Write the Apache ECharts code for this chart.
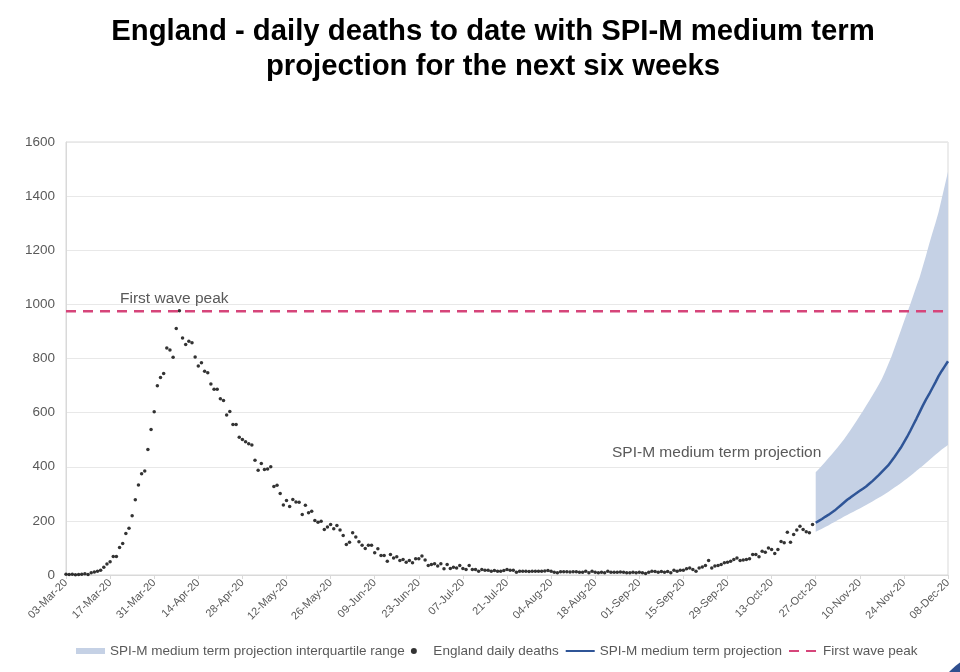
<!DOCTYPE html>
<html>
<head>
<meta charset="utf-8">
<script src="https://cdn.jsdelivr.net/npm/echarts@6/dist/echarts.min.js"></script>
<style>html,body{margin:0;padding:0;background:#fff}#c{width:960px;height:672px}</style>
</head>
<body>
<div id="c"></div>
<script>
// ---- Data ----
const MONTHS = ['Jan','Feb','Mar','Apr','May','Jun','Jul','Aug','Sep','Oct','Nov','Dec'];
const firstDate = [2020, 2, 3];   // 03-Mar-20
const lastDate = [2020, 11, 8];   // 08-Dec-20

// England daily deaths, one value per day from 03-Mar-20 to 26-Oct-20
const dailyDeaths = [
  3,2,3,1,2,3,5,2,8,11,14,18,29,41,49,68,68,102,116,153,173,219,278,333,374,384,464,538,603,699,730,745,839,831,805,911,976,
  876,852,864,858,806,772,784,753,747,706,686,686,651,645,591,604,556,556,509,501,492,485,480,424,387,412,390,392,400,327,332,301,259,275,253,279,270,
  269,224,258,230,236,201,195,199,168,177,187,171,183,166,146,113,121,156,140,123,110,98,110,110,82,97,72,72,51,76,63,67,54,57,47,54,45,60,60,70,55,35,39,42,33,42,23,39,
  24,29,26,35,24,20,35,20,20,14,20,18,18,14,17,14,14,17,20,18,18,10,14,14,14,13,14,14,14,14,15,17,14,10,8,12,12,12,11,12,12,10,10,14,8,14,10,8,10,8,14,10,10,10,11,10,8,8,10,8,
  10,8,6,10,14,13,10,13,10,13,8,18,14,18,18,23,26,20,14,26,30,35,54,26,33,35,39,45,47,51,57,63,54,55,57,60,76,76,67,88,84,100,94,79,94,124,119,158,121,150,166,180,168,160,156,187
];

// SPI-M medium term projection, 27-Oct-20 to 08-Dec-20
const projectionMedian = [
  193,200,207,215,222,230,238,248,258,268,278,286,295,303,311,319,327,337,347,358,369,381,393,405,420,436,453,470,490,510,532,555,578,602,626,648,668,690,712,735,754,772,790
];
const projectionLower = [
  160,165,171,177,183,190,196,203,209,216,222,228,234,240,246,252,259,265,272,279,285,292,299,307,315,323,331,339,348,357,366,375,385,394,404,414,424,434,444,454,464,472,480
];
const projectionUpper = [
  380,392,405,418,431,444,458,472,487,502,518,535,552,570,588,606,625,644,663,683,703,724,750,778,806,838,870,903,936,968,1000,1034,1068,1100,1140,1180,1222,1262,1300,1340,1390,1440,1490
];

const firstWavePeak = 975;

const yMin = 0, yMax = 1600, yStep = 200;

// ---- Build categories (every day) ----
const categories = [];
(function () {
  const t0 = Date.UTC(firstDate[0], firstDate[1], firstDate[2]);
  const t1 = Date.UTC(lastDate[0], lastDate[1], lastDate[2]);
  for (let t = t0; t <= t1; t += 86400000) {
    const d = new Date(t);
    categories.push(String(d.getUTCDate()).padStart(2, '0') + '-' + MONTHS[d.getUTCMonth()] + '-' + String(d.getUTCFullYear()).slice(2));
  }
})();

const projStart = dailyDeaths.length;
const pad = n => Array.from({length: n}, () => '-');
const lowerData = pad(projStart).concat(projectionLower);
const rangeData = pad(projStart).concat(projectionUpper.map((u, i) => u - projectionLower[i]));
const medianData = pad(projStart).concat(projectionMedian);

const GREY = '#595959';
const FONT = 'Liberation Sans, Arial, sans-serif';
const BAND = '#C5D1E5';
const BLUE = '#2F5597';
const PINK = '#D6457A';
const NOFILL = 'rgba(0,0,0,0)';

const chart = echarts.init(document.getElementById('c'), null, {renderer: 'canvas'});
chart.setOption({
  animation: false,
  backgroundColor: '#fff',
  textStyle: {fontFamily: FONT},
  grid: {left: 66, right: 12, top: 142, bottom: 97, show: true, borderColor: '#d9d9d9', borderWidth: 1, containLabel: false},
  xAxis: {
    type: 'category',
    data: categories,
    boundaryGap: false,
    axisLine: {lineStyle: {color: '#d9d9d9', width: 1}},
    axisTick: {show: true, interval: 13, length: 4, lineStyle: {color: '#d9d9d9'}},
    axisLabel: {interval: 13, rotate: 45, color: GREY, fontSize: 11, fontFamily: FONT, margin: 6},
    splitLine: {show: false}
  },
  yAxis: {
    type: 'value',
    min: yMin, max: yMax, interval: yStep,
    axisLine: {show: true, lineStyle: {color: '#d9d9d9'}},
    axisTick: {show: false},
    axisLabel: {color: GREY, fontSize: 13.5, fontFamily: FONT, margin: 11, formatter: v => String(v)},
    splitLine: {lineStyle: {color: '#e8e8e8', width: 1}}
  },
  legend: {
    left: 71, top: 639,
    itemWidth: 29, itemHeight: 6, itemGap: 6,
    textStyle: {color: GREY, fontSize: 13.5, fontFamily: FONT},
    data: [
      {name: 'SPI-M medium term projection interquartile range', icon: 'rect', itemStyle: {color: BAND}},
      {name: 'England daily deaths', icon: 'circle', itemStyle: {color: '#000'}},
      {name: 'SPI-M medium term projection', itemStyle: {color: NOFILL, borderWidth: 0}},
      {name: 'First wave peak', itemStyle: {color: NOFILL, borderWidth: 0}}
    ]
  },
  graphic: [
    {type: 'text', x: 493, y: 32, style: {text: 'England - daily deaths to date with SPI-M medium term', fill: '#000', font: 'bold 29.3px ' + FONT, align: 'center', verticalAlign: 'middle'}},
    {type: 'text', x: 493, y: 67, style: {text: 'projection for the next six weeks', fill: '#000', font: 'bold 29.3px ' + FONT, align: 'center', verticalAlign: 'middle'}},
    {type: 'text', x: 120, y: 299, z: 10, style: {text: 'First wave peak', fill: GREY, font: '15.5px ' + FONT, align: 'left', verticalAlign: 'middle'}},
    {type: 'text', x: 612, y: 453, z: 10, style: {text: 'SPI-M medium term projection', fill: GREY, font: '15.5px ' + FONT, align: 'left', verticalAlign: 'middle'}},
    {type: 'circle', shape: {cx: 1000, cy: 720, r: 70}, style: {fill: '#2F4F8F'}}
  ],
  series: [
    {
      name: 'band-base', type: 'line', stack: 'band', data: lowerData,
      symbol: 'none', lineStyle: {width: 0, opacity: 0}, silent: true, z: 1
    },
    {
      name: 'SPI-M medium term projection interquartile range', type: 'line', stack: 'band', data: rangeData,
      symbol: 'none', lineStyle: {width: 0, opacity: 0}, itemStyle: {color: BAND},
      areaStyle: {color: BAND, opacity: 1}, silent: true, z: 1
    },
    {
      name: 'England daily deaths', type: 'scatter', data: dailyDeaths,
      symbol: 'circle', symbolSize: 3.5, itemStyle: {color: '#000'}, z: 3
    },
    {
      name: 'SPI-M medium term projection', type: 'line', data: medianData,
      symbol: 'none', smooth: false, lineStyle: {color: BLUE, width: 2.5}, itemStyle: {color: BLUE}, z: 4
    },
    {
      name: 'First wave peak', type: 'line',
      data: [[categories[0], firstWavePeak], [categories[categories.length - 1], firstWavePeak]],
      symbol: 'none', lineStyle: {color: PINK, width: 2.5, type: [10, 7]}, itemStyle: {color: PINK}, z: 5
    }
  ]
});
</script>
</body>
</html>
